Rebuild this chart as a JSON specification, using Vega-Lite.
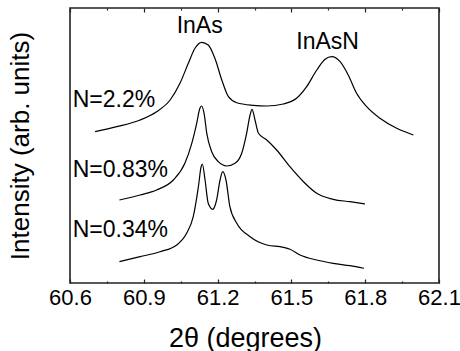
{
  "$schema": "https://vega.github.io/schema/vega-lite/v6.json",
  "width": 369,
  "height": 275,
  "autosize": {"type": "none"},
  "padding": {"left": 70, "top": 8, "right": 21, "bottom": 68},
  "config": {
    "font": "Liberation Sans",
    "view": {"stroke": "#222", "strokeWidth": 1.6},
    "axis": {"labelColor": "#000", "titleColor": "#000", "titleFontWeight": "normal", "tickColor": "#222", "domain": false, "grid": false}
  },
  "datasets": {
    "curves": [
      {"s": "N=2.2%", "x": 60.702, "y": 149.3},
      {"s": "N=2.2%", "x": 60.790, "y": 154.3},
      {"s": "N=2.2%", "x": 60.885, "y": 161.0},
      {"s": "N=2.2%", "x": 60.952, "y": 169.3},
      {"s": "N=2.2%", "x": 61.007, "y": 181.0},
      {"s": "N=2.2%", "x": 61.047, "y": 197.7},
      {"s": "N=2.2%", "x": 61.081, "y": 217.7},
      {"s": "N=2.2%", "x": 61.108, "y": 232.7},
      {"s": "N=2.2%", "x": 61.135, "y": 238.7},
      {"s": "N=2.2%", "x": 61.162, "y": 236.0},
      {"s": "N=2.2%", "x": 61.189, "y": 222.7},
      {"s": "N=2.2%", "x": 61.217, "y": 201.0},
      {"s": "N=2.2%", "x": 61.244, "y": 184.3},
      {"s": "N=2.2%", "x": 61.278, "y": 178.3},
      {"s": "N=2.2%", "x": 61.345, "y": 175.7},
      {"s": "N=2.2%", "x": 61.400, "y": 175.0},
      {"s": "N=2.2%", "x": 61.467, "y": 177.0},
      {"s": "N=2.2%", "x": 61.521, "y": 182.7},
      {"s": "N=2.2%", "x": 61.562, "y": 194.3},
      {"s": "N=2.2%", "x": 61.603, "y": 211.0},
      {"s": "N=2.2%", "x": 61.637, "y": 221.7},
      {"s": "N=2.2%", "x": 61.664, "y": 224.3},
      {"s": "N=2.2%", "x": 61.698, "y": 219.3},
      {"s": "N=2.2%", "x": 61.731, "y": 206.0},
      {"s": "N=2.2%", "x": 61.765, "y": 187.7},
      {"s": "N=2.2%", "x": 61.806, "y": 174.3},
      {"s": "N=2.2%", "x": 61.860, "y": 162.7},
      {"s": "N=2.2%", "x": 61.928, "y": 152.7},
      {"s": "N=2.2%", "x": 61.996, "y": 146.0},
      {"s": "N=0.83%", "x": 60.801, "y": 81.0},
      {"s": "N=0.83%", "x": 60.885, "y": 86.0},
      {"s": "N=0.83%", "x": 60.952, "y": 91.0},
      {"s": "N=0.83%", "x": 61.020, "y": 101.0},
      {"s": "N=0.83%", "x": 61.067, "y": 117.7},
      {"s": "N=0.83%", "x": 61.095, "y": 137.7},
      {"s": "N=0.83%", "x": 61.115, "y": 157.7},
      {"s": "N=0.83%", "x": 61.128, "y": 172.7},
      {"s": "N=0.83%", "x": 61.135, "y": 175.0},
      {"s": "N=0.83%", "x": 61.145, "y": 167.7},
      {"s": "N=0.83%", "x": 61.156, "y": 147.7},
      {"s": "N=0.83%", "x": 61.176, "y": 129.3},
      {"s": "N=0.83%", "x": 61.203, "y": 119.3},
      {"s": "N=0.83%", "x": 61.237, "y": 115.0},
      {"s": "N=0.83%", "x": 61.271, "y": 117.7},
      {"s": "N=0.83%", "x": 61.298, "y": 127.7},
      {"s": "N=0.83%", "x": 61.318, "y": 147.7},
      {"s": "N=0.83%", "x": 61.332, "y": 166.0},
      {"s": "N=0.83%", "x": 61.340, "y": 171.7},
      {"s": "N=0.83%", "x": 61.352, "y": 161.0},
      {"s": "N=0.83%", "x": 61.366, "y": 147.7},
      {"s": "N=0.83%", "x": 61.400, "y": 141.0},
      {"s": "N=0.83%", "x": 61.440, "y": 131.0},
      {"s": "N=0.83%", "x": 61.494, "y": 114.3},
      {"s": "N=0.83%", "x": 61.549, "y": 99.3},
      {"s": "N=0.83%", "x": 61.603, "y": 87.7},
      {"s": "N=0.83%", "x": 61.670, "y": 81.7},
      {"s": "N=0.83%", "x": 61.738, "y": 79.3},
      {"s": "N=0.83%", "x": 61.799, "y": 77.0},
      {"s": "N=0.34%", "x": 60.801, "y": 19.3},
      {"s": "N=0.34%", "x": 60.885, "y": 24.3},
      {"s": "N=0.34%", "x": 60.966, "y": 29.3},
      {"s": "N=0.34%", "x": 61.034, "y": 36.0},
      {"s": "N=0.34%", "x": 61.074, "y": 47.7},
      {"s": "N=0.34%", "x": 61.101, "y": 64.3},
      {"s": "N=0.34%", "x": 61.122, "y": 94.3},
      {"s": "N=0.34%", "x": 61.133, "y": 114.3},
      {"s": "N=0.34%", "x": 61.138, "y": 117.0},
      {"s": "N=0.34%", "x": 61.149, "y": 101.0},
      {"s": "N=0.34%", "x": 61.162, "y": 77.7},
      {"s": "N=0.34%", "x": 61.180, "y": 71.7},
      {"s": "N=0.34%", "x": 61.196, "y": 81.0},
      {"s": "N=0.34%", "x": 61.210, "y": 101.0},
      {"s": "N=0.34%", "x": 61.221, "y": 109.3},
      {"s": "N=0.34%", "x": 61.234, "y": 101.0},
      {"s": "N=0.34%", "x": 61.250, "y": 74.3},
      {"s": "N=0.34%", "x": 61.278, "y": 57.7},
      {"s": "N=0.34%", "x": 61.332, "y": 44.3},
      {"s": "N=0.34%", "x": 61.400, "y": 36.0},
      {"s": "N=0.34%", "x": 61.467, "y": 33.7},
      {"s": "N=0.34%", "x": 61.494, "y": 31.7},
      {"s": "N=0.34%", "x": 61.535, "y": 26.0},
      {"s": "N=0.34%", "x": 61.603, "y": 21.0},
      {"s": "N=0.34%", "x": 61.670, "y": 17.7},
      {"s": "N=0.34%", "x": 61.738, "y": 15.3},
      {"s": "N=0.34%", "x": 61.795, "y": 12.7}
    ],
    "sampleLabels": [
      {"label": "N=2.2%", "x": 60.611, "y": 174.3},
      {"label": "N=0.83%", "x": 60.611, "y": 104.3},
      {"label": "N=0.34%", "x": 60.611, "y": 44.3}
    ],
    "peakLabels": [
      {"label": "InAs", "x": 61.127, "y": 247.7},
      {"label": "InAsN", "x": 61.647, "y": 231.7}
    ]
  },
  "layer": [
    {
      "data": {"name": "curves"},
      "mark": {"type": "line", "interpolate": "monotone", "color": "#000", "strokeWidth": 1.2},
      "encoding": {
        "x": {
          "field": "x", "type": "quantitative",
          "scale": {"domain": [60.6, 62.1], "nice": false, "zero": false},
          "axis": {
            "orient": "bottom",
            "title": "2θ (degrees)",
            "titleFontSize": 27,
            "titleX": 175,
            "titleY": 63,
            "titleBaseline": "alphabetic",
            "labelFontSize": 22,
            "labelPadding": 8,
            "labelFlush": false,
            "labelOverlap": false,
            "values": [60.6, 60.75, 60.9, 61.05, 61.2, 61.35, 61.5, 61.65, 61.8, 61.95, 62.1],
            "labelExpr": "round(datum.value*100) % 30 == 0 ? format(datum.value, '.1f') : ''",
            "tickSize": {"condition": {"test": "round(datum.value*100) % 30 == 0", "value": -4}, "value": -2},
            "tickWidth": 1.2
          }
        },
        "y": {
          "field": "y", "type": "quantitative",
          "scale": {"domain": [-2, 273], "nice": false, "zero": false},
          "axis": {
            "title": "Intensity (arb. units)",
            "titleFontSize": 26,
            "titlePadding": 37,
            "labels": false,
            "ticks": false
          }
        },
        "detail": {"field": "s", "type": "nominal"}
      }
    },
    {
      "data": {"name": "sampleLabels"},
      "mark": {"type": "text", "align": "left", "baseline": "alphabetic", "fontSize": 23, "color": "#000"},
      "encoding": {
        "x": {
          "field": "x", "type": "quantitative",
          "axis": {
            "orient": "top",
            "title": null,
            "labels": false,
            "values": [60.6, 60.75, 60.9, 61.05, 61.2, 61.35, 61.5, 61.65, 61.8, 61.95, 62.1],
            "tickSize": {"condition": {"test": "round(datum.value*100) % 30 == 0", "value": -4}, "value": -2},
            "tickWidth": 1.2
          }
        },
        "y": {"field": "y", "type": "quantitative", "axis": null},
        "text": {"field": "label"}
      }
    },
    {
      "data": {"name": "peakLabels"},
      "mark": {"type": "text", "align": "center", "baseline": "alphabetic", "fontSize": 23, "color": "#000"},
      "encoding": {
        "x": {"field": "x", "type": "quantitative", "axis": null},
        "y": {"field": "y", "type": "quantitative", "axis": null},
        "text": {"field": "label"}
      }
    }
  ],
  "resolve": {"axis": {"x": "independent", "y": "independent"}}
}
